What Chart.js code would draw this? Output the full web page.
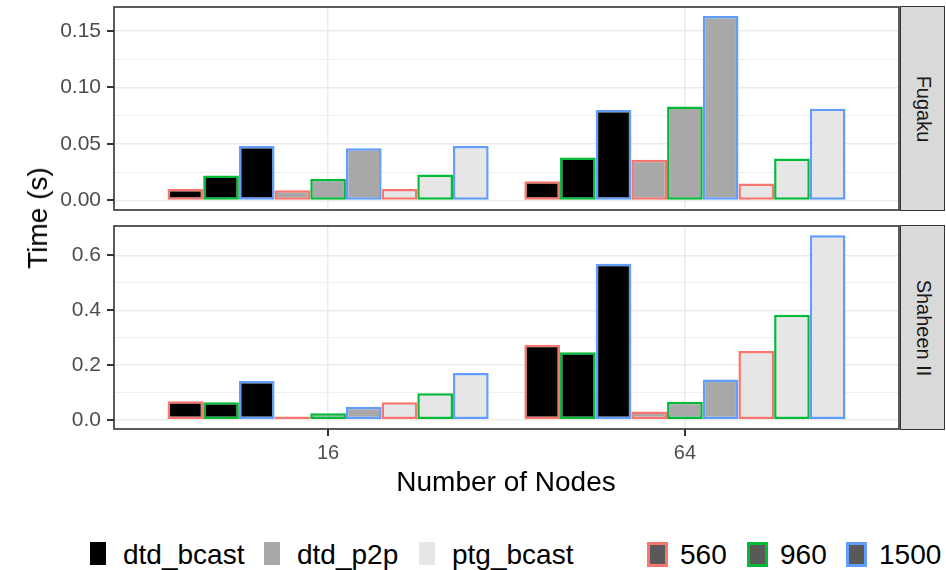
<!DOCTYPE html>
<html>
<head>
<meta charset="utf-8">
<script src="https://cdn.jsdelivr.net/npm/chart.js@4.4.1/dist/chart.umd.min.js"></script>
<style>
  body { margin: 0; background: #fff; font-family: "Liberation Sans", Arial, sans-serif; }
  #wrap { position: relative; width: 946px; height: 570px; overflow: hidden; }
  canvas { position: absolute; left: 0; }
  .strip { position: absolute; left: 900px; width: 45px; background: #D9D9D9; border: 1.5px solid #333; box-sizing: border-box; }
  .strip span { position: absolute; left: 50%; top: 50%; transform: translate(-50%, -50%) rotate(90deg); font-size: 20px; color: #1A1A1A; white-space: nowrap; }
  .title { position: absolute; font-size: 28px; line-height: 28px; color: #000; white-space: nowrap; }
  .item { position: absolute; top: 541px; height: 28px; display: flex; align-items: flex-start; font-size: 28px; line-height: 28px; color: #000; white-space: nowrap; }
  .key { box-sizing: border-box; margin-top: 1px; }
</style>
</head>
<body>
<div id="wrap">
  <canvas id="graficoFugaku" width="900" height="218" style="top:0px"></canvas>
  <canvas id="graficoShaheen" width="900" height="251" style="top:219px"></canvas>
  <div class="strip" style="top:6px;height:205px"><span>Fugaku</span></div>
  <div class="strip" style="top:225px;height:205px"><span>Shaheen II</span></div>
  <div class="title" style="left:38px;top:218px;transform:translate(-50%,-50%) rotate(-90deg)">Time (s)</div>
  <div class="title" style="left:506px;top:468px;transform:translateX(-50%)">Number of Nodes</div>
  <div id="legenda"></div>
</div>
<script>
  const nodes = ['16', '64'];
  const variants = ['dtd_bcast', 'dtd_p2p', 'ptg_bcast'];
  const sizes = ['560', '960', '1500'];

  // Fugaku, one array per variant, rows = size (560, 960, 1500), cols = nodes (16, 64)
  const fugakuDtdBcast = [[0.010, 0.017], [0.022, 0.038], [0.048, 0.080]];
  const fugakuDtdP2p   = [[0.009, 0.036], [0.019, 0.083], [0.046, 0.163]];
  const fugakuPtgBcast = [[0.010, 0.015], [0.023, 0.037], [0.048, 0.081]];

  // Shaheen II
  const shaheenDtdBcast = [[0.068, 0.274], [0.064, 0.247], [0.142, 0.570]];
  const shaheenDtdP2p   = [[0.012, 0.030], [0.024, 0.066], [0.048, 0.147]];
  const shaheenPtgBcast = [[0.064, 0.251], [0.097, 0.384], [0.171, 0.674]];

  const fugakuTicks = [0, 0.025, 0.05, 0.075, 0.1, 0.125, 0.15];
  const shaheenTicks = [0, 0.1, 0.2, 0.3, 0.4, 0.5, 0.6];

  const fillColours = ['#000000', '#A8A8A8', '#E6E6E6'];
  const sizeColours = ['#F8766D', '#00BA38', '#619CFF'];

  // panel frame + outside tick marks (ggplot style)
  const panelBorder = {
    id: 'panelBorder',
    afterDraw(chart, args, opts) {
      const { ctx, chartArea: a, scales } = chart;
      ctx.save();
      ctx.fillStyle = '#333333';
      (opts.majors || []).forEach(v => {
        const py = Math.round(scales.y.getPixelForValue(v));
        ctx.fillRect(a.left - 7, py - 1, 7, 2);
      });
      if (opts.showX) {
        nodes.forEach((n, i) => {
          const px = Math.round(scales.x.getPixelForValue(i + 1));
          ctx.fillRect(px - 1, a.bottom, 2, 7);
        });
      }
      ctx.strokeStyle = '#333333';
      ctx.lineWidth = 1.6;
      ctx.strokeRect(a.left, a.top, a.right - a.left, a.bottom - a.top);
      ctx.restore();
    }
  };

  function semPadding(s) {
    s.paddingTop = 0;
    s.paddingBottom = 0;
    s.paddingLeft = 0;
    s.paddingRight = 0;
  }

  function criarGrafico(id, series, yMin, yMax, yTicks, majorStep, digits, showX) {
    const datasets = [];
    variants.forEach((v, vi) => {
      sizes.forEach((s, si) => {
        datasets.push({
          label: v + ' ' + s,
          data: series[vi][si].map((y, i) => ({ x: i + 1, y: y })),
          backgroundColor: fillColours[vi],
          borderColor: sizeColours[si],
          borderWidth: 2.5,
          borderSkipped: false,
          categoryPercentage: 0.9,
          barPercentage: 1.0
        });
      });
    });
    const isMajor = v => Math.abs(v / majorStep - Math.round(v / majorStep)) < 1e-6;

    return new Chart(document.getElementById(id), {
      type: 'bar',
      data: { datasets: datasets },
      plugins: [panelBorder],
      options: {
        responsive: false,
        animation: false,
        devicePixelRatio: 1,
        events: [],
        layout: { padding: { top: 7, right: 1, bottom: showX ? 0 : 8, left: 0 } },
        plugins: {
          legend: { display: false },
          tooltip: { enabled: false },
          panelBorder: { majors: yTicks.filter(isMajor), showX: showX }
        },
        scales: {
          x: {
            type: 'linear',
            min: 0.4,
            max: 2.6,
            offset: false,
            afterBuildTicks: s => { s.ticks = nodes.map((n, i) => ({ value: i + 1 })); },
            afterFit: s => { s.height = showX ? 41 : 0; semPadding(s); },
            border: { display: false },
            grid: { offset: false, color: '#EBEBEB', lineWidth: 1.5, drawTicks: false },
            ticks: {
              display: showX,
              padding: 12,
              color: '#4D4D4D',
              font: { family: 'Liberation Sans', size: 20 },
              callback: v => nodes[v - 1]
            }
          },
          y: {
            type: 'linear',
            min: yMin,
            max: yMax,
            afterBuildTicks: s => { s.ticks = yTicks.map(v => ({ value: v })); },
            afterFit: s => { s.width = 114; semPadding(s); },
            border: { display: false },
            grid: {
              color: '#EBEBEB',
              lineWidth: c => isMajor(c.tick.value) ? 1.5 : 0.8,
              drawTicks: false
            },
            ticks: {
              padding: 13,
              color: '#4D4D4D',
              font: { family: 'Liberation Sans', size: 21 },
              callback: v => isMajor(v) ? v.toFixed(digits) : ''
            }
          }
        }
      }
    });
  }

  criarGrafico('graficoFugaku', [fugakuDtdBcast, fugakuDtdP2p, fugakuPtgBcast],
    -0.0085, 0.171, fugakuTicks, 0.05, 2, false);
  criarGrafico('graficoShaheen', [shaheenDtdBcast, shaheenDtdP2p, shaheenPtgBcast],
    -0.0337, 0.7077, shaheenTicks, 0.2, 1, true);

  // legend
  const legenda = document.getElementById('legenda');
  const fillLeft = [90, 264, 419];
  const sizeLeft = [647, 747, 846];
  variants.forEach((v, i) => {
    const item = document.createElement('div');
    item.className = 'item';
    item.style.left = fillLeft[i] + 'px';
    item.innerHTML = '<div class="key" style="width:16px;height:23px;background:' + fillColours[i] +
      ';margin-right:17px"></div><span>' + v + '</span>';
    legenda.appendChild(item);
  });
  sizes.forEach((s, i) => {
    const item = document.createElement('div');
    item.className = 'item';
    item.style.left = sizeLeft[i] + 'px';
    item.innerHTML = '<div class="key" style="width:21px;height:25px;background:#595959;border:3px solid ' + sizeColours[i] +
      ';margin-right:12px"></div><span>' + s + '</span>';
    legenda.appendChild(item);
  });
</script>
</body>
</html>
